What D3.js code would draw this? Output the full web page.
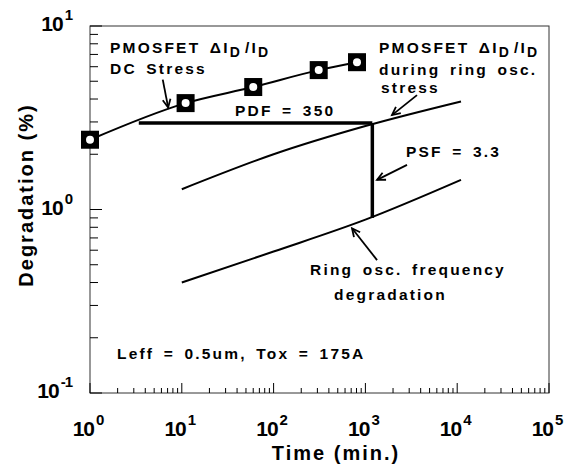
<!DOCTYPE html>
<html>
<head>
<meta charset="utf-8">
<script src="https://cdn.jsdelivr.net/npm/d3@7"></script>
<style>
  body { margin: 0; background: #fff; }
  text { font-family: "Liberation Sans", Arial, sans-serif; font-weight: bold; fill: #000; }
  .ann { font-size: 15.5px; letter-spacing: 2.2px; word-spacing: 3px; }
  .sub { font-size: 14px; }
  .tick { font-size: 21px; letter-spacing: -1px; }
  .sup { font-size: 15px; }
</style>
</head>
<body>
<svg id="chart" width="566" height="473"></svg>
<script>
// DC stress measurements (PMOSFET dId/Id)
var dcTime = [1, 11, 60, 310, 810];
var dcValue = [2.4, 3.8, 4.65, 5.75, 6.35];

// PMOSFET dId/Id during ring osc. stress
var ringTime = [10, 100, 1000, 11000];
var ringValue = [1.29, 2.0, 2.85, 3.88];

// Ring osc. frequency degradation
var freqTime = [10, 100, 1000, 11000];
var freqValue = [0.40, 0.59, 0.88, 1.45];

// PDF / PSF construction lines
var pdfTime = [3.4, 1190];
var pdfValue = [2.96, 2.96];
var psfTime = [1190, 1190];
var psfValue = [2.96, 0.90];

// annotation arrows: [fromTime, fromValue, toTime, toValue]
var arrows = [
    [6.2, 5.1, 7.1, 3.6],
    [3650, 4.2, 1950, 3.27],
    [2840, 1.75, 1340, 1.45],
    [1340, 0.53, 715, 0.79]
];

var xDecades = [0, 1, 2, 3, 4, 5];
var yDecades = [1, 0, -1];

var svg = d3.select("#chart");
var x = d3.scaleLog().domain([1, 1e5]).range([90, 549]);
var y = d3.scaleLog().domain([0.1, 10]).range([393, 26]);

// frame
svg.append("rect")
    .attr("x", 90).attr("y", 26)
    .attr("width", 549 - 90).attr("height", 393 - 26)
    .attr("fill", "none").attr("stroke", "#333").attr("stroke-width", 1);

// minor / major ticks
var minor = [];
for (var d = 0; d < 5; d++) {
    for (var m = 2; m <= 9; m++) minor.push(m * Math.pow(10, d));
}
svg.selectAll(".xminor").data(minor).enter().append("line")
    .attr("x1", function (d) { return x(d); }).attr("x2", function (d) { return x(d); })
    .attr("y1", 393).attr("y2", 388)
    .attr("stroke", "#000").attr("stroke-width", 1);
svg.selectAll(".xmajor").data(xDecades).enter().append("line")
    .attr("x1", function (d) { return x(Math.pow(10, d)); }).attr("x2", function (d) { return x(Math.pow(10, d)); })
    .attr("y1", 393).attr("y2", 383)
    .attr("stroke", "#000").attr("stroke-width", 1);

var yminor = [];
for (var e = -1; e < 1; e++) {
    for (var k = 2; k <= 9; k++) yminor.push(k * Math.pow(10, e));
}
svg.selectAll(".yminor").data(yminor).enter().append("line")
    .attr("x1", 90).attr("x2", 98)
    .attr("y1", function (d) { return y(d); }).attr("y2", function (d) { return y(d); })
    .attr("stroke", "#000").attr("stroke-width", 1);
svg.selectAll(".ymajor").data(yDecades).enter().append("line")
    .attr("x1", 90).attr("x2", 102)
    .attr("y1", function (d) { return y(Math.pow(10, d)); }).attr("y2", function (d) { return y(Math.pow(10, d)); })
    .attr("stroke", "#000").attr("stroke-width", 1);

// tick labels
var xl = svg.selectAll(".xlab").data(xDecades).enter().append("text")
    .attr("class", "tick")
    .attr("x", function (d) { return x(Math.pow(10, d)) - 2; })
    .attr("y", 436)
    .attr("text-anchor", "middle");
xl.append("tspan").text("10");
xl.append("tspan").attr("class", "sup").attr("dy", -11).attr("dx", 2).text(function (d) { return d; });

var yl = svg.selectAll(".ylab").data(yDecades).enter().append("text")
    .attr("class", "tick")
    .attr("x", 72)
    .attr("y", function (d) { return y(Math.pow(10, d)) + 5; })
    .attr("text-anchor", "end");
yl.append("tspan").text("10");
yl.append("tspan").attr("class", "sup").attr("dy", -11).attr("dx", 2).text(function (d) { return d; });

// axis titles
svg.append("text")
    .attr("x", 336).attr("y", 460)
    .attr("text-anchor", "middle")
    .style("font-size", "20px").style("letter-spacing", "2px")
    .text("Time  (min.)");
svg.append("text")
    .attr("transform", "translate(33,195) rotate(-90)")
    .attr("text-anchor", "middle")
    .style("font-size", "20px").style("letter-spacing", "2px")
    .text("Degradation  (%)");

// curves
var line = d3.line()
    .x(function (d) { return x(d[0]); })
    .y(function (d) { return y(d[1]); })
    .curve(d3.curveMonotoneX);
var straight = d3.line()
    .x(function (d) { return x(d[0]); })
    .y(function (d) { return y(d[1]); });
function pairs(t, v) { return t.map(function (d, i) { return [d, v[i]]; }); }

svg.append("path").datum(pairs(dcTime, dcValue)).attr("d", line)
    .attr("fill", "none").attr("stroke", "#000").attr("stroke-width", 2);
svg.append("path").datum(pairs(ringTime, ringValue)).attr("d", line)
    .attr("fill", "none").attr("stroke", "#000").attr("stroke-width", 2);
svg.append("path").datum(pairs(freqTime, freqValue)).attr("d", line)
    .attr("fill", "none").attr("stroke", "#000").attr("stroke-width", 2);
svg.append("path").datum(pairs(pdfTime, pdfValue)).attr("d", straight)
    .attr("fill", "none").attr("stroke", "#000").attr("stroke-width", 3.5);
svg.append("path").datum(pairs(psfTime, psfValue)).attr("d", straight)
    .attr("fill", "none").attr("stroke", "#000").attr("stroke-width", 3.5);

// DC markers
var mk = svg.selectAll(".mk").data(pairs(dcTime, dcValue)).enter().append("g")
    .attr("transform", function (d) { return "translate(" + x(d[0]) + "," + y(d[1]) + ")"; });
mk.append("rect").attr("x", -9).attr("y", -9).attr("width", 18).attr("height", 18).attr("fill", "#000");
mk.append("circle").attr("r", 4).attr("fill", "#fff");

// arrows
arrows.forEach(function (a) {
    var x1 = x(a[0]), y1 = y(a[1]), x2 = x(a[2]), y2 = y(a[3]);
    var ang = Math.atan2(y2 - y1, x2 - x1), L = 9, w = 0.45;
    svg.append("line").attr("x1", x1).attr("y1", y1).attr("x2", x2).attr("y2", y2)
        .attr("stroke", "#000").attr("stroke-width", 1.8);
    svg.append("path")
        .attr("d", "M" + (x2 - L * Math.cos(ang - w)) + "," + (y2 - L * Math.sin(ang - w)) +
            "L" + x2 + "," + y2 +
            "L" + (x2 - L * Math.cos(ang + w)) + "," + (y2 - L * Math.sin(ang + w)))
        .attr("fill", "none").attr("stroke", "#000").attr("stroke-width", 1.8);
});

// annotations
function idText(sel) {
    sel.append("tspan").text("PMOSFET ");
    sel.append("tspan").text("\u0394I");
    sel.append("tspan").attr("class", "sub").attr("dy", 4).text("D");
    sel.append("tspan").attr("dy", -4).attr("dx", 3).text("/I");
    sel.append("tspan").attr("class", "sub").attr("dy", 4).text("D");
}
idText(svg.append("text").attr("class", "ann").attr("x", 110).attr("y", 53));
svg.append("text").attr("class", "ann").attr("x", 110).attr("y", 74).text("DC Stress");
idText(svg.append("text").attr("class", "ann").attr("x", 379).attr("y", 53));
svg.append("text").attr("class", "ann").attr("x", 379).attr("y", 75).text("during ring osc.");
svg.append("text").attr("class", "ann").attr("x", 381).attr("y", 93).text("stress");
svg.append("text").attr("class", "ann").attr("x", 235).attr("y", 116).text("PDF = 350");
svg.append("text").attr("class", "ann").attr("x", 406).attr("y", 157).text("PSF = 3.3");
svg.append("text").attr("class", "ann").attr("x", 310).attr("y", 275).text("Ring osc. frequency");
svg.append("text").attr("class", "ann").attr("x", 334).attr("y", 300).text("degradation");
svg.append("text").attr("class", "ann").attr("x", 117).attr("y", 359).text("Leff = 0.5um, Tox = 175A");
</script>
</body>
</html>
